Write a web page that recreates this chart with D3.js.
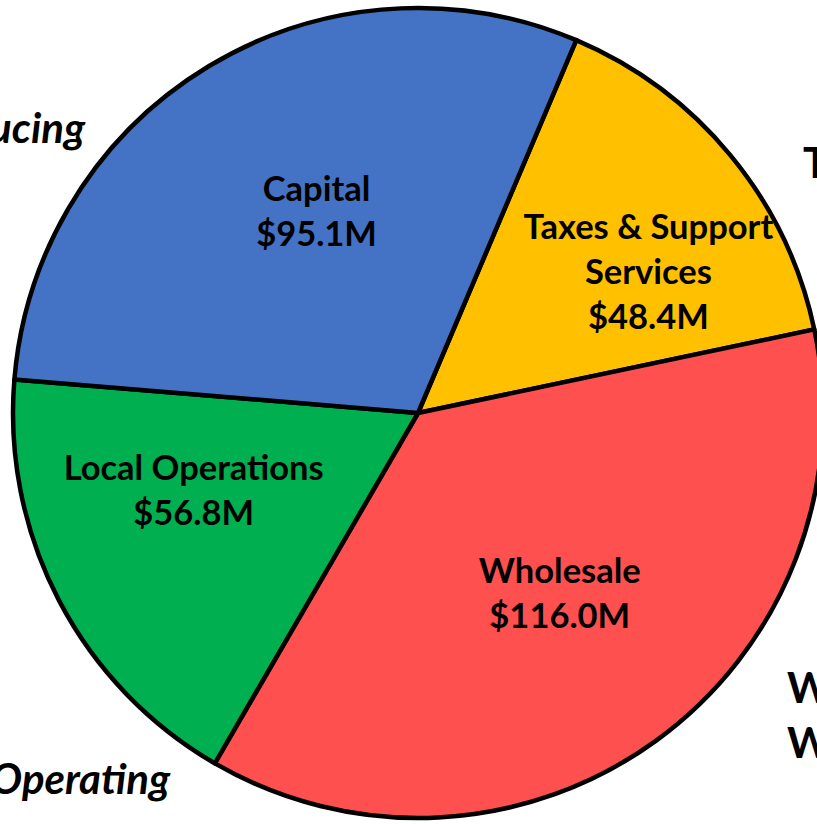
<!DOCTYPE html>
<html>
<head>
<meta charset="utf-8">
<script src="https://cdn.jsdelivr.net/npm/d3@7"></script>
<style>
  html, body { margin: 0; padding: 0; background: #fff; overflow: hidden; }
  svg { display: block; }
</style>
</head>
<body>
<svg id="chart" width="817" height="824"></svg>
<script>
// ---- data ----
const categories = ["Taxes & Support Services", "Wholesale", "Local Operations", "Capital"];
const labelLines = [["Taxes & Support", "Services"], ["Wholesale"], ["Local Operations"], ["Capital"]];
const values = [48.4, 116.0, 56.8, 95.1];
const colors = ["#FFC000", "#FF5050", "#00B050", "#4472C4"];
const outerLabels = [
  { lines: ["Producing"], x: 85, y: 143, anchor: "end", italic: true },
  { lines: ["Taxes"], x: 803, y: 178, anchor: "start", italic: false },
  { lines: ["Wholesale", "Water"], x: 787, y: 703, anchor: "start", italic: false },
  { lines: ["Operating"], x: 170, y: 794, anchor: "end", italic: true }
];

// ---- layout ----
const W = 817, H = 824;
const cx = 418, cy = 413, R = 405;
const startDeg = 23;
const labelNudge = [[49, 8], [4, -10], [-16, -31], [20, 0]];
const fontInner = "Lato, 'Open Sans', sans-serif";

const svg = d3.select("#chart");
const g = svg.append("g").attr("transform", `translate(${cx},${cy})`);

const pie = d3.pie().sort(null).value(d => d)
  .startAngle(startDeg * Math.PI / 180)
  .endAngle(startDeg * Math.PI / 180 + 2 * Math.PI);
const arcs = pie(values);
const arc = d3.arc().innerRadius(0).outerRadius(R);
const labelArc = d3.arc().innerRadius(235).outerRadius(235);

g.selectAll("path.slice").data(arcs).join("path")
  .attr("class", "slice")
  .attr("d", arc)
  .attr("fill", (d, i) => colors[i])
  .attr("stroke", "#000")
  .attr("stroke-width", 4.5)
  .attr("stroke-linejoin", "round");

const fmt = v => "$" + d3.format(".1f")(v) + "M";
const lineH = 45;
const capH = 24;

arcs.forEach((a, i) => {
  const c = labelArc.centroid(a);
  const x = c[0] + labelNudge[i][0];
  const yc = c[1] + labelNudge[i][1];
  const lines = labelLines[i].concat([fmt(values[i])]);
  const n = lines.length;
  const t = g.append("text")
    .attr("text-anchor", "middle")
    .attr("font-family", fontInner)
    .attr("font-weight", "bold")
    .attr("font-size", 34.5)
    .attr("fill", "#000");
  lines.forEach((ln, k) => {
    t.append("tspan")
      .attr("x", x)
      .attr("y", yc + (k - (n - 1) / 2) * lineH + capH / 2)
      .text(ln);
  });
});

outerLabels.forEach(o => {
  const t = svg.append("text")
    .attr("text-anchor", o.anchor)
    .attr("font-family", fontInner)
    .attr("font-weight", "bold")
    .attr("font-style", o.italic ? "italic" : "normal")
    .attr("font-size", 42)
    .attr("fill", "#000");
  o.lines.forEach((ln, k) => {
    t.append("tspan").attr("x", o.x).attr("y", o.y + k * 55).text(ln);
  });
});
</script>
</body>
</html>
